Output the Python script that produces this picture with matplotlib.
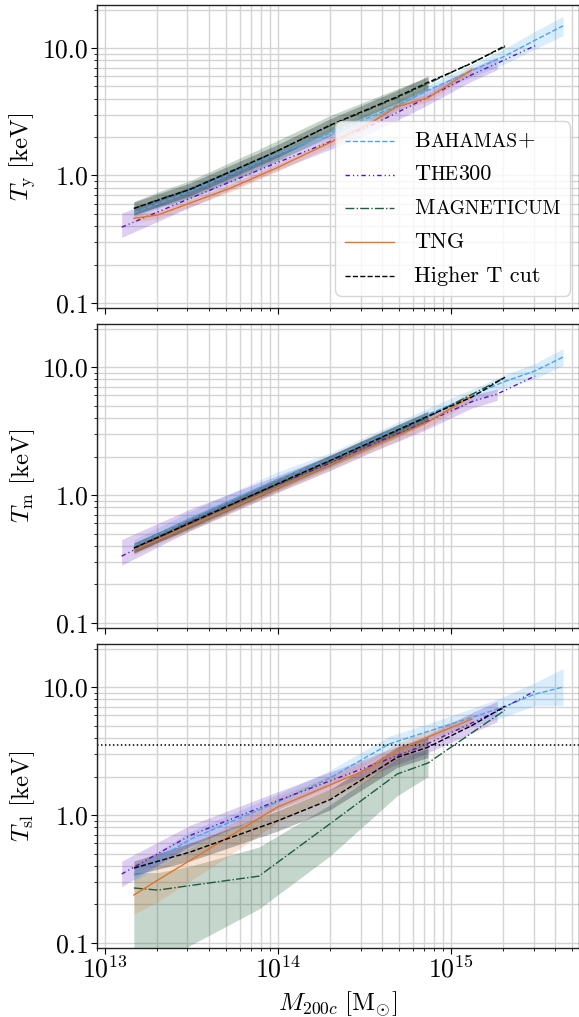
import numpy as np
import matplotlib
matplotlib.use("Agg")
import matplotlib.pyplot as plt
from matplotlib.ticker import LogLocator, FixedLocator, FixedFormatter, NullFormatter
from matplotlib.offsetbox import AnchoredOffsetbox, VPacker, HPacker, TextArea, DrawingArea
from matplotlib.lines import Line2D

plt.rcParams.update({
    "font.family": "serif",
    "font.serif": ["cmr10"],
    "mathtext.fontset": "cm",
    "axes.unicode_minus": False,
    "axes.formatter.use_mathtext": True,
})

nan = np.nan

# ---------------- data (M200c in Msun, temperatures in keV) ----------------
# BAHAMAS+
bah_m = [1.47e13, 3.10e13, 9.86e13, 2.00e14, 4.39e14, 7.46e14, 1.34e15, 2.00e15, 3.06e15, 4.44e15]
bah_ty = [0.51, 0.75, 1.46, 2.14, 3.31, 4.70, 6.7, 8.5, 11.5, 14.9]
bah_ty_lo = [0.47, 0.68, 1.33, 1.95, 3.02, 4.29, 5.97, 7.4, 9.8, 12.5]
bah_ty_hi = [0.56, 0.82, 1.60, 2.35, 3.63, 5.15, 7.5, 9.76, 13.5, 17.7]
bah_tm = [0.40, 0.646, 1.318, 1.905, 3.09, 4.30, 6.03, 7.64, 9.33, 11.97]
bah_tm_lo = [0.356, 0.563, 1.148, 1.70, 2.75, 3.83, 5.37, 6.81, 8.13, 10.3]
bah_tm_hi = [0.449, 0.742, 1.513, 2.14, 3.47, 4.82, 6.77, 8.57, 10.7, 13.9]
bah_tsl = [0.346, 0.646, 1.259, 1.95, 3.59, 4.53, 5.83, 6.98, 8.81, 10.0]
bah_tsl_lo = [0.301, 0.563, 1.097, 1.70, 3.13, 3.95, 4.96, 5.81, 7.16, 7.16]
bah_tsl_hi = [0.397, 0.742, 1.445, 2.24, 4.12, 5.20, 6.85, 8.39, 10.84, 13.96]

# THE300
t300_m = [1.25e13, 3.10e13, 9.86e13, 2.00e14, 3.54e14, 6.89e14, 1.32e15, 1.85e15, 3.06e15]
t300_ty = [0.393, 0.661, 1.259, 1.84, 2.51, 3.93, 6.17, 7.59, 10.4]
t300_ty_lo = [0.327, 0.563, 1.097, 1.60, 2.19, 3.42, 5.50, 6.76, nan]
t300_ty_hi = [0.506, 0.813, 1.479, 2.11, 2.88, 4.51, 6.92, 8.52, nan]
t300_tm = [0.333, 0.617, 1.202, 1.778, 2.51, 3.63, 5.37, 6.17, 8.51]
t300_tm_lo = [0.283, 0.525, 1.047, 1.549, 2.19, 3.16, 4.78, 5.50, nan]
t300_tm_hi = [0.449, 0.777, 1.412, 2.04, 2.88, 4.17, 6.03, 6.76, nan]
t300_tsl = [0.346, 0.692, 1.288, 1.85, 2.47, 3.47, 5.25, 6.46, 9.33]
t300_tsl_lo = [0.275, 0.576, 1.096, 1.574, 2.10, 2.95, 4.37, 5.37, nan]
t300_tsl_hi = [0.436, 0.832, 1.513, 2.17, 2.90, 4.08, 6.31, 7.76, nan]

# MAGNETICUM
mag_m = [1.47e13, 2.02e13, 3.10e13, 7.76e13, 2.00e14, 4.88e14, 7.36e14, 2.05e15]
mag_ty = [0.55, 0.646, 0.776, 1.334, 2.455, 4.07, 5.25, 10.2]
mag_ty_lo = [0.485, 0.563, 0.660, 1.110, 2.04, 3.46, 4.68, nan]
mag_ty_hi = [0.624, 0.742, 0.912, 1.603, 2.95, 4.78, 5.89, nan]
mag_tm = [0.385, 0.468, 0.603, 1.047, 1.84, 3.16, 4.07, 8.32]
mag_tm_lo = [0.351, 0.427, 0.537, 0.933, 1.64, 2.82, 3.71, nan]
mag_tm_hi = [0.422, 0.513, 0.677, 1.175, 2.06, 3.55, 4.46, nan]
mag_tsl = [0.269, 0.259, 0.281, 0.333, 0.855, 2.09, 2.55, 6.61]
mag_tsl_lo = [0.050, 0.063, 0.0955, 0.1845, 0.479, 1.413, 1.995, nan]
mag_tsl_hi = [0.355, 0.355, 0.398, 0.562, 1.202, 2.754, 3.311, nan]

# TNG
tng_m = [1.47e13, 2.02e13, 5.28e13, 9.86e13, 3.31e14, 4.88e14, 7.36e14, 1.32e15]
tng_ty = [0.461, 0.490, 0.794, 1.148, 2.51, 3.46, 4.06, 6.76]
tng_ty_lo = [0.430, 0.457, 0.741, 1.071, 2.34, 3.23, 3.79, 6.31]
tng_ty_hi = [0.494, 0.525, 0.851, 1.231, 2.69, 3.71, 4.35, 7.25]
tng_tm = [0.372, 0.448, 0.787, 1.138, 2.32, 2.91, 3.72, 5.93]
tng_tm_lo = [0.339, 0.409, 0.718, 1.038, 2.12, 2.65, 3.39, 5.41]
tng_tm_hi = [0.408, 0.491, 0.863, 1.247, 2.54, 3.19, 4.08, 6.50]
tng_tsl = [0.237, 0.310, 0.685, 1.148, 2.29, 3.16, 4.07, 5.62]
tng_tsl_lo = [0.168, 0.210, 0.485, 0.871, 1.862, 2.69, 3.63, 5.13]
tng_tsl_hi = [0.312, 0.390, 0.843, 1.380, 2.69, 3.63, 4.57, 6.16]

# Higher T cut
hit_m = [1.47e13, 3.10e13, 9.86e13, 2.00e14, 4.88e14, 7.36e14, 1.32e15, 2.05e15]
hit_ty = [0.552, 0.778, 1.549, 2.48, 4.14, 5.37, 7.59, 10.4]
hit_ty_lo = [0.492, 0.693, 1.380, 2.21, 3.69, 4.78, nan, nan]
hit_ty_hi = [0.619, 0.873, 1.738, 2.78, 4.65, 6.03, nan, nan]
hit_tm = [0.385, 0.604, 1.219, 1.862, 3.21, 4.14, 5.83, 8.32]
hit_tm_lo = [0.351, 0.551, 1.112, 1.698, 2.93, 3.78, nan, nan]
hit_tm_hi = [0.422, 0.662, 1.336, 2.04, 3.52, 4.54, nan, nan]
hit_tsl = [0.385, 0.513, 0.897, 1.318, 2.82, 3.39, 5.01, 7.08]
hit_tsl_lo = [0.339, 0.437, 0.746, 1.097, 2.35, 2.82, nan, nan]
hit_tsl_hi = [0.437, 0.603, 1.078, 1.584, 3.39, 4.07, nan, nan]

t_sl_threshold = 3.5  # keV, dotted line in bottom panel

ylabels = [r"$T_\mathrm{y}\ [\mathrm{keV}]$", r"$T_\mathrm{m}\ [\mathrm{keV}]$",
           r"$T_\mathrm{sl}\ [\mathrm{keV}]$"]
xlabel = r"$M_{200c}\ [\mathrm{M}_{\odot}]$"
ytick_vals = [0.1, 1.0, 10.0]
ytick_labels = ["0.1", "1.0", "10.0"]

# ---------------- styles ----------------
C_BAH = "#45a5f2"
C_T300 = "#5a10c0"
C_MAG = "#1b5e3b"
C_TNG = "#e07428"
C_HIT = "#000000"
LS_BAH = (0, (3.7, 1.6))
LS_T300 = (0, (3.2, 2.2, 0.8, 2.2, 0.8, 2.2))
LS_MAG = (0, (6.4, 1.6, 1.0, 1.6))
LS_TNG = "-"
LS_HIT = (0, (3.7, 1.6))
LW = 1.0

series = [
    ("bah", bah_m, [(bah_ty, bah_ty_lo, bah_ty_hi), (bah_tm, bah_tm_lo, bah_tm_hi),
                    (bah_tsl, bah_tsl_lo, bah_tsl_hi)], C_BAH, LS_BAH, 0.2),
    ("t300", t300_m, [(t300_ty, t300_ty_lo, t300_ty_hi), (t300_tm, t300_tm_lo, t300_tm_hi),
                      (t300_tsl, t300_tsl_lo, t300_tsl_hi)], C_T300, LS_T300, 0.2),
    ("mag", mag_m, [(mag_ty, mag_ty_lo, mag_ty_hi), (mag_tm, mag_tm_lo, mag_tm_hi),
                    (mag_tsl, mag_tsl_lo, mag_tsl_hi)], C_MAG, LS_MAG, 0.25),
    ("tng", tng_m, [(tng_ty, tng_ty_lo, tng_ty_hi), (tng_tm, tng_tm_lo, tng_tm_hi),
                    (tng_tsl, tng_tsl_lo, tng_tsl_hi)], C_TNG, LS_TNG, 0.2),
    ("hit", hit_m, [(hit_ty, hit_ty_lo, hit_ty_hi), (hit_tm, hit_tm_lo, hit_tm_hi),
                    (hit_tsl, hit_tsl_lo, hit_tsl_hi)], C_HIT, LS_HIT, 0.25),
]

W, H = 579, 1017
fig = plt.figure(figsize=(W / 100, H / 100), dpi=100)
left_px, right_px = 97, 578.5
panels_px = [(5, 308), (324, 628), (644, 948)]
axes = []
for top, bot in panels_px:
    ax = fig.add_axes([left_px / W, 1 - bot / H, (right_px - left_px) / W, (bot - top) / H])
    axes.append(ax)

for i, ax in enumerate(axes):
    ax.set_xscale("log")
    ax.set_yscale("log")
    ax.set_axisbelow(True)
    for name, m, vals, c, ls, a in series:
        t, lo, hi = vals[i]
        ax.fill_between(m, np.array(lo, float), np.array(hi, float), color=c, alpha=a, lw=0, zorder=1)
    for name, m, vals, c, ls, a in series:
        t, lo, hi = vals[i]
        ax.plot(m, t, color=c, ls=ls, lw=LW, zorder=3)
    ax.set_xlim(9.0e12, 5.45e15)
    ax.set_ylim(0.0914, 21.7)
    ax.yaxis.set_major_locator(FixedLocator(ytick_vals))
    ax.yaxis.set_major_formatter(FixedFormatter(ytick_labels))
    ax.yaxis.set_minor_locator(LogLocator(base=10, subs=np.arange(2, 10), numticks=20))
    ax.yaxis.set_minor_formatter(NullFormatter())
    ax.xaxis.set_major_locator(LogLocator(base=10, numticks=10))
    ax.xaxis.set_minor_locator(LogLocator(base=10, subs=np.arange(2, 10), numticks=20))
    ax.xaxis.set_minor_formatter(NullFormatter())
    ax.grid(True, which="both", color="#d4d4d4", lw=1.0)
    ax.tick_params(which="major", length=4.3, width=0.8, labelsize=18.5, pad=1.5, color="k")
    ax.tick_params(which="minor", length=2.5, width=0.6)
    for s in ax.spines.values():
        s.set_linewidth(1.0)
        s.set_color("#222222")
        s.set_zorder(4)
    ax.set_ylabel(ylabels[i], fontsize=18)
    ax.yaxis.set_label_coords(-0.125, 0.5)
    if i < 2:
        ax.tick_params(axis="x", which="both", labelbottom=False)

axes[2].axhline(t_sl_threshold, color="k", ls=(0, (1, 1.6)), lw=1.1, zorder=2)
axes[2].set_xlabel(xlabel, fontsize=18)
axes[2].xaxis.set_label_coords(0.5, -0.137)

# ---------------- legend with small caps ----------------
BIG, SMALL = 16, 14.0
legend_rows = [
    ([("B", BIG), ("AHAMAS", SMALL), ("+", BIG)], C_BAH, LS_BAH),
    ([("T", BIG), ("HE", SMALL), ("300", BIG)], C_T300, LS_T300),
    ([("M", BIG), ("AGNETICUM", SMALL)], C_MAG, LS_MAG),
    ([("TNG", BIG)], C_TNG, LS_TNG),
    ([("Higher T cut", BIG)], C_HIT, LS_HIT),
]
rows = []
for parts, c, ls in legend_rows:
    da = DrawingArea(35.3, 10, 0, 0)
    da.add_artist(Line2D([0, 35.3], [5, 5], color=c, ls=ls, lw=LW))
    txt = HPacker(children=[TextArea(s, textprops=dict(fontsize=fs, family="cmr10")) for s, fs in parts],
                  pad=0, sep=0, align="baseline")
    rows.append(HPacker(children=[da, txt], pad=0, sep=14.4, align="center"))
box = VPacker(children=rows, pad=0, sep=10.3, align="left")
anch = AnchoredOffsetbox(loc="lower right", child=box, pad=0.45, borderpad=0.0, frameon=True,
                         bbox_to_anchor=(0.983, 0.040), bbox_transform=axes[0].transAxes,
                         prop=dict(size=16))
anch.patch.set_boxstyle("round,pad=0,rounding_size=0.3")
anch.patch.set_facecolor("white")
anch.patch.set_alpha(0.8)
anch.patch.set_edgecolor("#cccccc")
anch.set_zorder(5)
axes[0].add_artist(anch)

fig.savefig("out.png", dpi=100)
